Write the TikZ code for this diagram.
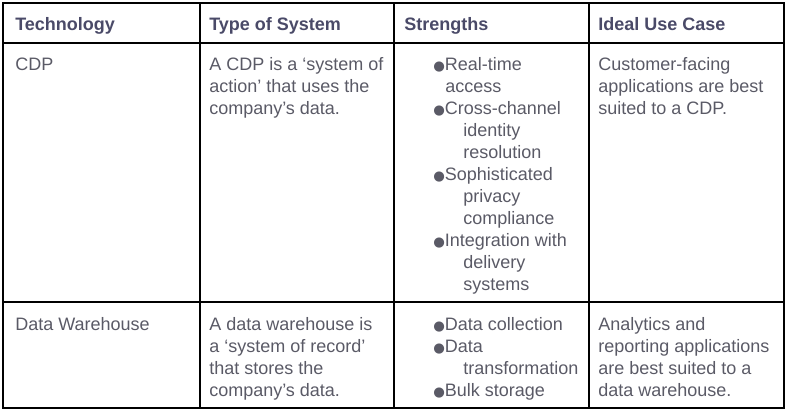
\documentclass[tikz,border=0pt]{standalone}
\usepackage{fontspec}
\setmainfont{Liberation Sans}
\newfontfamily\dejavu{DejaVu Sans}
\definecolor{hd}{HTML}{4A4A68}
\definecolor{bd}{HTML}{5A5A66}
\newcommand{\bul}{{\dejavu\fontsize{10}{10}\selectfont ●}}
\begin{document}
\begin{tikzpicture}[x=0.75pt,y=-0.75pt,
  h/.style={anchor=base west,inner sep=0pt,font=\fontsize{13.5}{15}\selectfont\bfseries,text=hd},
  t/.style={anchor=base west,inner sep=0pt,font=\fontsize{13.5}{15}\selectfont,text=bd},
  grid/.style={line width=0.9pt,black}]
\useasboundingbox (0,0) rectangle (787,412);
\draw[grid] (3,3) rectangle (784,408);
\draw[grid] (3,43) -- (784,43);
\draw[grid] (3,302) -- (784,302);
\foreach \x in {200,394,589} \draw[grid] (\x,3) -- (\x,408);
\node[h] (h1) at (15,30) {Technology};
\node[h] (h2) at (209,30) {Type of System};
\node[h] (h3) at (404,30) {Strengths};
\node[h] (h4) at (598,30) {Ideal Use Case};
% row 1
\node[t] (a1) at (15,70) {CDP};
\node[t] (b1) at (209,70) {A CDP is a ‘system of};
\node[t] (b2) at (209,92) {action’ that uses the};
\node[t] (b3) at (209,114) {company’s data.};
\node[t] (c1) at (433,70) {\bul Real-time};
\node[t] (c2) at (445,92) {access};
\node[t] (c3) at (433,114) {\bul Cross-channel};
\node[t] (c4) at (463,136) {identity};
\node[t] (c5) at (463,158) {resolution};
\node[t] (c6) at (433,180) {\bul Sophisticated};
\node[t] (c7) at (463,202) {privacy};
\node[t] (c8) at (463,224) {compliance};
\node[t] (c9) at (433,246) {\bul Integration with};
\node[t] (c10) at (463,268) {delivery};
\node[t] (c11) at (463,290) {systems};
\node[t] (d1) at (598,70) {Customer-facing};
\node[t] (d2) at (598,92) {applications are best};
\node[t] (d3) at (598,114) {suited to a CDP.};
% row 2
\node[t] (a2) at (15,330) {Data Warehouse};
\node[t] (e1) at (209,330) {A data warehouse is};
\node[t] (e2) at (209,352) {a ‘system of record’};
\node[t] (e3) at (209,374) {that stores the};
\node[t] (e4) at (209,396) {company’s data.};
\node[t] (f1) at (433,330) {\bul Data collection};
\node[t] (f2) at (433,352) {\bul Data};
\node[t] (f3) at (463,374) {transformation};
\node[t] (f4) at (433,396) {\bul Bulk storage};
\node[t] (g1) at (598,330) {Analytics and};
\node[t] (g2) at (598,352) {reporting applications};
\node[t] (g3) at (598,374) {are best suited to a};
\node[t] (g4) at (598,396) {data warehouse.};
\end{tikzpicture}
\end{document}
